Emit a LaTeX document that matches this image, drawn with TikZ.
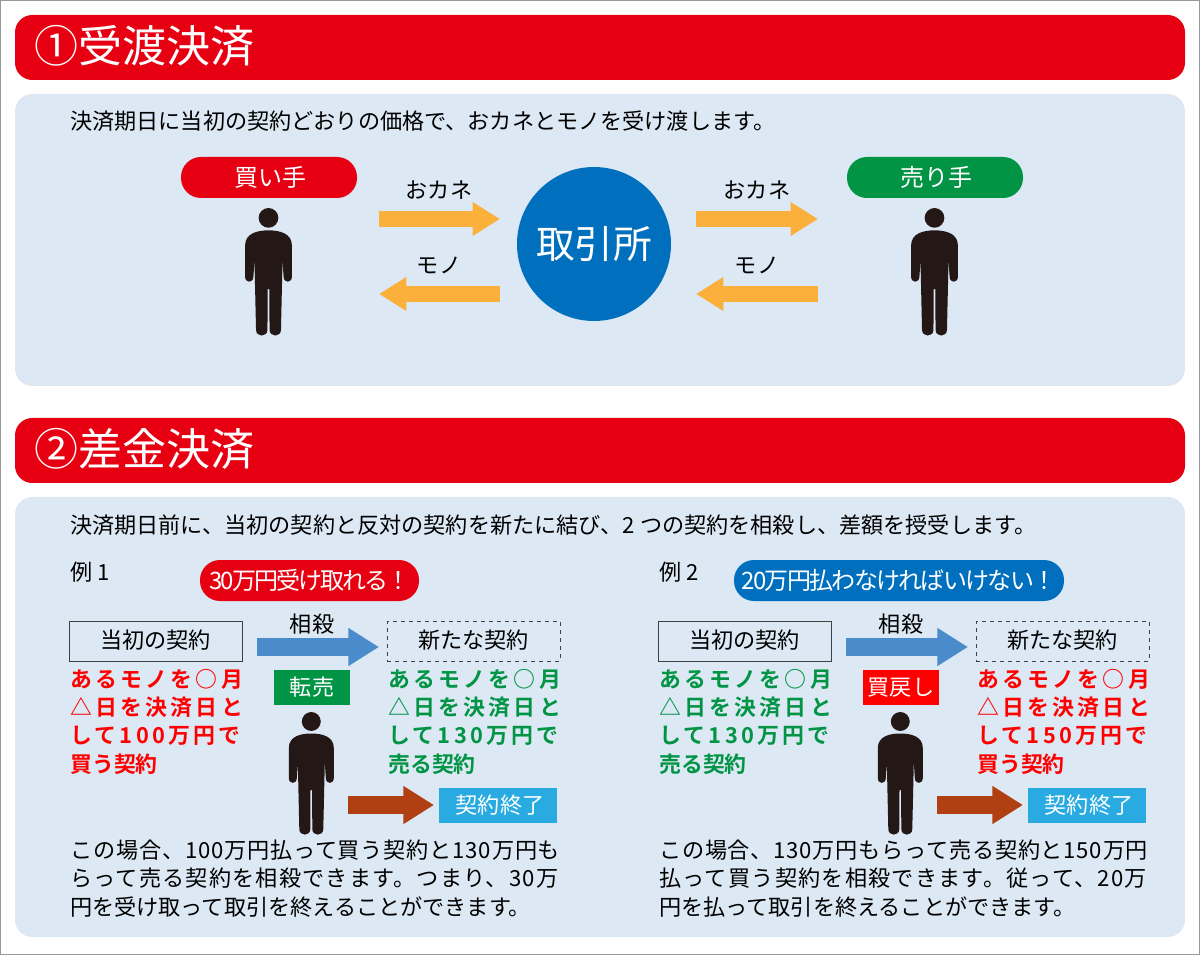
\documentclass[tikz,border=0pt]{standalone}
\usepackage{fontspec}
\setmainfont{Noto Sans CJK JP}[BoldFont={Noto Sans CJK JP Bold}]
\usetikzlibrary{arrows.meta}
\definecolor{barred}{HTML}{E60012}
\definecolor{panelblue}{HTML}{DCE8F4}
\definecolor{roundblue}{HTML}{0070BE}
\definecolor{sellgreen}{HTML}{009444}
\definecolor{moveorange}{HTML}{FBB03B}
\definecolor{netblue}{HTML}{4A8CCB}
\definecolor{endbrown}{HTML}{B04012}
\definecolor{endcyan}{HTML}{29ABE2}
\definecolor{figblack}{HTML}{231815}
\newcommand{\bodysize}{\fontsize{16.6}{21.2}\selectfont}
\newcommand{\pillsize}{\fontsize{18}{21.2}\selectfont}
\newcommand{\spaced}[2]{{\addfontfeature{LetterSpace=#1}#2}}
\tikzset{
  bar/.style = {fill = barred, rounded corners = 13pt},
  panel/.style = {fill = panelblue, rounded corners = 13pt},
  headline/.style = {anchor = base west, text = white, inner sep = 0pt, font = \fontsize{33}{33}\selectfont},
  txt/.style = {anchor = base west, inner sep = 0pt, font = \bodysize},
  para/.style = {txt, align = left},
  boldpara/.style = {para, text = #1, font = \bfseries\fontsize{16.4}{21.2}\selectfont},
  label/.style = {anchor = base, inner sep = 0pt, font = \bodysize},
  pill/.style = {fill = #1, rounded corners = 15pt},
  whitetxt/.style = {text = white, inner sep = 0pt, font = \pillsize},
  block/.style = {fill = #1, text = white, inner sep = 0pt, font = \bodysize},
  framed/.style = {draw = black!75, minimum width = 129.5pt, minimum height = 30pt, inner sep = 0pt, font = \bodysize},
  moveline/.style = {line width = 12pt, moveorange, -{Triangle[length = 20.5pt, width = 24pt]}},
  netline/.style = {line width = 13.5pt, netblue, -{Triangle[length = 23pt, width = 27pt]}},
  endline/.style = {line width = 13.5pt, endbrown, -{Triangle[length = 23pt, width = 27pt]}},
  person/.pic = {
    \fill[figblack] (0,9.5) circle [radius = 7.1pt];
    \fill[figblack] (0,21.5) .. controls (10,21.5) and (22.5,24) .. (22.5,36) -- (22.5,66)
      .. controls (22.5,72.5) and (14.5,72.5) .. (14.5,66) -- (13.5,50) -- (12,117)
      .. controls (12,124.5) and (1,124.5) .. (1,117) -- (.8,78) -- (-.8,78) -- (-1,117)
      .. controls (-1,124.5) and (-12,124.5) .. (-12,117) -- (-13.5,50) -- (-14.5,66)
      .. controls (-14.5,72.5) and (-22.5,72.5) .. (-22.5,66) -- (-22.5,36)
      .. controls (-22.5,24) and (-10,21.5) .. (0,21.5) -- cycle;
  }
}

\begin{document}
\begin{tikzpicture}
  [x = .75pt, y = -.75pt]
  \useasboundingbox (0,0) rectangle (1200,955);
  \draw[color = black!40, line width = .75pt] (.5,.5) rectangle (1199.5,954.5);

  % two bars, two panels
  \foreach \top/\bot/\low in {15/80/386, 418/483/937}{
    \fill[bar] (15,\top) rectangle (1185,\bot);
    \fill[panel] (15,\bot+14) rectangle (1185,\low);
  }
  \node[headline] (title1) at (34,63) {①受渡決済};
  \node[headline] (title2) at (34,466) {②差金決済};

  % first part
  \node[txt] (lead1) at (70,130) {決済期日に当初の契約どおりの価格で、おカネとモノを受け渡します。};
  \fill[pill = barred] (181,157) rectangle (357,198);
  \fill[pill = sellgreen] (847,157) rectangle (1023,198);
  \node[whitetxt] (buyer) at (270.5,177) {買い手};
  \node[whitetxt] (seller) at (936.5,177) {売り手};
  \node[circle, fill = roundblue, minimum size = 115.5pt, inner sep = 0pt, text = white,
    font = \fontsize{29}{29}\selectfont] (market) at (594,244) {\raisebox{-1pt}{取引所}};
  \pic[scale = 1.04] at (268.5,208) {person};
  \pic[scale = 1.04] at (934.5,208) {person};
  \foreach \from/\to/\high/\word/\lx in {379/500/219/おカネ/439, 500/379/294/モノ/439, 696/818/219/おカネ/757, 818/696/294/モノ/757}{
    \coordinate (start) at (\from,\high);
    \coordinate (stop) at (\to,\high);
    \draw[moveline] (start) -- (stop);
    \node[label] (word) at (\lx,\high-20) {\word};
  }

  % second part
  \node[txt] (lead2) at (70,533) {決済期日前に、当初の契約と反対の契約を新たに結び、2 つの契約を相殺し、差額を授受します。};
  \node[txt] (ex1) at (70,580) {例 1};
  \node[txt] (ex2) at (659,580) {例 2};
  \fill[pill = barred] (200,560) rectangle (419,601);
  \fill[pill = roundblue] (734,560) rectangle (1064,601);
  \node[whitetxt] (gain) at (310,580) {\spaced{-8}{30万円受け取れる！}};
  \node[whitetxt] (loss) at (899,580) {\spaced{-7}{20万円払わなければいけない！}};
  \foreach \dx/\n in {0/1, 589/2}{
    \node[framed] (old\n) at (155.5+\dx,641) {\raisebox{2pt}{当初の契約}};
    \node[framed, dashed] (new\n) at (473.5+\dx,641) {\raisebox{2pt}{新たな契約}};
    \coordinate (netA\n) at (257+\dx,647);
    \coordinate (netB\n) at (379+\dx,647);
    \draw[netline] (netA\n) -- (netB\n);
    \node[label] (net\n) at (312+\dx,632) {相殺};
    \pic at (311.3+\dx,712) {person};
    \coordinate (endA\n) at (348+\dx,805);
    \coordinate (endB\n) at (434+\dx,805);
    \draw[endline] (endA\n) -- (endB\n);
    \node[block = endcyan, minimum width = 88.5pt, minimum height = 26.25pt] (end\n) at (498+\dx,805.5) {\hspace{3pt}契約終了};
  }
  \node[block = sellgreen, minimum width = 57pt, minimum height = 26.25pt] (resale) at (312,687.5) {転売};
  \node[block = red, minimum width = 57pt, minimum height = 26.25pt] (buyback) at (901,687.5) {買戻し};

  % contract texts
  \node[boldpara = red] (buy1) at (70,772) {%
    \spaced{15}{あるモノを○月}\\ \spaced{15}{△日を決済日と}\\ \spaced{15}{して100万円で}\\ 買う契約};
  \node[boldpara = sellgreen] (sell1) at (388,772) {%
    \spaced{15}{あるモノを○月}\\ \spaced{15}{△日を決済日と}\\ \spaced{15}{して130万円で}\\ 売る契約};
  \node[boldpara = sellgreen] (sell2) at (659,772) {%
    \spaced{15}{あるモノを○月}\\ \spaced{15}{△日を決済日と}\\ \spaced{15}{して130万円で}\\ 売る契約};
  \node[boldpara = red] (buy2) at (977,772) {%
    \spaced{15}{あるモノを○月}\\ \spaced{15}{△日を決済日と}\\ \spaced{15}{して150万円で}\\ 買う契約};

  % closing texts
  \node[para] (close1) at (70,915) {\spaced{3.7}{この場合、100万円払って買う契約と130万円も}\\
    \spaced{5.4}{らって売る契約を相殺できます。つまり、30万}\\
    円を受け取って取引を終えることができます。};
  \node[para] (close2) at (659,915) {\spaced{3.5}{この場合、130万円もらって売る契約と150万円}\\
    \spaced{5.6}{払って買う契約を相殺できます。従って、20万}\\
    円を払って取引を終えることができます。};
\end{tikzpicture}
\end{document}
